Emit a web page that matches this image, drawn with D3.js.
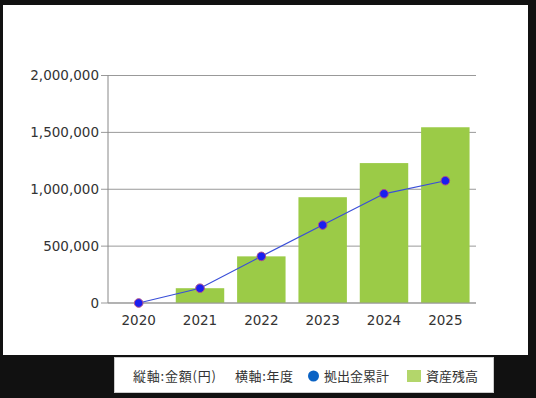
<!DOCTYPE html>
<html>
<head>
<meta charset="utf-8">
<script src="https://cdn.jsdelivr.net/npm/d3@7"></script>
<style>
  html, body { margin: 0; padding: 0; background: #111111; }
  svg { display: block; }
</style>
</head>
<body>
<div id="chart"></div>
<script>
// data
var years = ["2020", "2021", "2022", "2023", "2024", "2025"];
var assetBalance = [0, 130000, 410000, 930000, 1230000, 1545000];
var contributions = [0, 130000, 410000, 685000, 960000, 1075000];
var yTicks = [0, 500000, 1000000, 1500000, 2000000];
var legendAxisText = ["縦軸:金額(円)", "横軸:年度"];
var seriesNames = ["拠出金累計", "資産残高"];

var svgWidth = 536;
var svgHeight = 398;

// plot area
var margin = { top: 75.5, right: 60, bottom: 95, left: 108 };
var plotRight = svgWidth - margin.right;
var plotBottom = svgHeight - margin.bottom;

var svg = d3.select("#chart")
  .append("svg")
  .attr("width", svgWidth)
  .attr("height", svgHeight);

// white panel
svg.append("rect")
  .attr("x", 3)
  .attr("y", 5)
  .attr("width", 525)
  .attr("height", 350)
  .attr("fill", "#ffffff");

var xScale = d3.scaleBand()
  .domain(years)
  .range([margin.left, plotRight])
  .paddingInner(0.21)
  .paddingOuter(0.105);

var yScale = d3.scaleLinear()
  .domain([0, 2000000])
  .range([plotBottom, margin.top]);

// gridlines
svg.append("g")
  .selectAll("line")
  .data(yTicks)
  .enter()
  .append("line")
  .attr("x1", margin.left - 7)
  .attr("x2", plotRight)
  .attr("y1", d => yScale(d))
  .attr("y2", d => yScale(d))
  .attr("stroke", "#999999")
  .attr("stroke-width", 1);

// y axis line
svg.append("line")
  .attr("x1", margin.left)
  .attr("x2", margin.left)
  .attr("y1", yScale(2000000))
  .attr("y2", yScale(0))
  .attr("stroke", "#888888");

// y tick labels
var fmt = d3.format(",");
svg.append("g")
  .selectAll("text")
  .data(yTicks)
  .enter()
  .append("text")
  .attr("x", margin.left - 9)
  .attr("y", d => yScale(d))
  .attr("dy", "0.36em")
  .attr("text-anchor", "end")
  .attr("font-family", "DejaVu Sans, Verdana, sans-serif")
  .attr("font-size", 13.5)
  .attr("fill", "#333333")
  .text(d => fmt(d));

// bars
svg.append("g")
  .selectAll("rect")
  .data(years)
  .enter()
  .append("rect")
  .attr("x", d => xScale(d))
  .attr("width", xScale.bandwidth())
  .attr("y", (d, i) => yScale(assetBalance[i]))
  .attr("height", (d, i) => yScale(0) - yScale(assetBalance[i]))
  .attr("fill", "#9bcb47");

// x axis baseline redraw on top of bars
svg.append("line")
  .attr("x1", margin.left)
  .attr("x2", plotRight)
  .attr("y1", yScale(0))
  .attr("y2", yScale(0))
  .attr("stroke", "#999999");

// x labels
svg.append("g")
  .selectAll("text")
  .data(years)
  .enter()
  .append("text")
  .attr("x", d => xScale(d) + xScale.bandwidth() / 2)
  .attr("y", 325)
  .attr("text-anchor", "middle")
  .attr("font-family", "DejaVu Sans, Verdana, sans-serif")
  .attr("font-size", 13.5)
  .attr("fill", "#333333")
  .text(d => d);

// contribution line
var line = d3.line()
  .x((d, i) => xScale(years[i]) + xScale.bandwidth() / 2)
  .y(d => yScale(d));

svg.append("path")
  .datum(contributions)
  .attr("d", line)
  .attr("fill", "none")
  .attr("stroke", "#3a4fd8")
  .attr("stroke-width", 1.2);

svg.append("g")
  .selectAll("circle")
  .data(contributions)
  .enter()
  .append("circle")
  .attr("cx", (d, i) => xScale(years[i]) + xScale.bandwidth() / 2)
  .attr("cy", d => yScale(d))
  .attr("r", 4.3)
  .attr("fill", "#1a1ff0")
  .attr("stroke", "#b0508a")
  .attr("stroke-width", 1);

// legend box
var legend = svg.append("g");
legend.append("rect")
  .attr("x", 114.5)
  .attr("y", 357.5)
  .attr("width", 379)
  .attr("height", 35)
  .attr("fill", "#ffffff")
  .attr("stroke", "#cccccc");

var legendFont = "Noto Sans CJK JP, sans-serif";
function legendText(x, t, spacing) {
  legend.append("text")
    .attr("x", x)
    .attr("y", 380.5)
    .attr("font-family", legendFont)
    .attr("font-size", 13)
    .attr("letter-spacing", spacing)
    .attr("fill", "#333333")
    .text(t);
}

legendText(133, legendAxisText[0], 0.8);
legendText(235, legendAxisText[1], 0.6);

legend.append("circle")
  .attr("cx", 313.5)
  .attr("cy", 376)
  .attr("r", 5.5)
  .attr("fill", "#0b63c4");

legendText(324, seriesNames[0], 0);

legend.append("rect")
  .attr("x", 407)
  .attr("y", 370)
  .attr("width", 14)
  .attr("height", 12)
  .attr("fill", "#b3d66b");

legendText(426, seriesNames[1], 0);
</script>
</body>
</html>
